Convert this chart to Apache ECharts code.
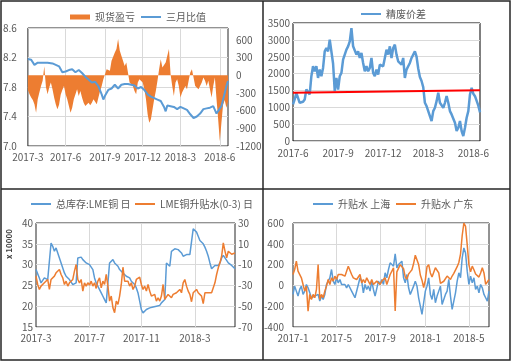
<!DOCTYPE html>
<html><head><meta charset="utf-8">
<script src="https://cdn.jsdelivr.net/npm/echarts@6/dist/echarts.min.js"></script>
<style>html,body{margin:0;padding:0;background:#fff}#c{width:513px;height:362px}</style>
</head><body><div id="c"></div>
<script>
// ---------- Panel 1: 现货盈亏 / 三月比值 ----------
const p1Start = '2017-03-01', p1Step = 3.92;
const p1Ticks = ['2017-3','2017-6','2017-9','2017-12','2018-3','2018-6'];
const spotPnL = [-250,-323,-380,-420,-493,-635,-408,-295,-181,-96,150,-200,-323,-210,-125,-238,-380,-493,-578,-500,
-330,-250,-181,-323,-408,-521,-635,-550,-408,-323,-238,-351,-266,-380,-465,-521,-493,-465,-510,-465,
-408,-436,-493,-380,-266,-181,-68,-40,102,130,75,243,215,385,442,612,420,328,243,158,
215,45,-125,-96,-181,-266,-323,-125,-68,-40,-125,-238,-408,-663,-805,-748,-578,-408,-266,-96,
102,272,130,102,215,328,442,17,-181,-351,-125,-68,-181,-380,-295,-238,-181,-238,-96,45,
102,-40,-181,-153,-238,-266,-125,-40,-96,-181,-96,-238,-380,-181,-40,-408,-748,-1120,-800,-500,
-420,-550,-450];
const ratio3M = [8.18,null,8.17,null,8.10,null,8.13,null,null,8.13,null,null,8.13,null,null,8.12,null,8.10,null,8.08,
null,8.00,null,8.01,null,8.03,null,8.04,null,8.00,null,8.03,null,7.99,null,7.94,null,7.90,null,7.86,
null,7.87,null,7.81,null,7.70,7.63,7.68,null,7.76,null,7.78,null,7.83,null,7.78,null,7.83,null,7.84,
null,7.84,null,7.83,null,7.82,null,7.78,null,7.80,null,7.76,null,7.70,null,7.67,null,7.65,null,7.63,
null,7.61,null,7.53,7.47,7.55,null,7.54,null,7.53,null,7.50,null,7.53,null,7.51,null,7.49,null,7.43,
null,7.38,null,7.40,null,7.44,null,7.50,null,7.51,null,7.52,null,7.54,null,7.44,7.43,null,7.54,null,
7.72,7.81,7.88];

// ---------- Panel 2: 精废价差 ----------
const p2Start = '2017-06-01', p2Step = 3.37;
const p2Ticks = ['2017-6','2017-9','2017-12','2018-3','2018-6'];
const scrapSpread = [1084,1232,1429,1380,1133,1133,1162,1232,1527,1478,1380,1921,2217,2069,2217,1872,2118,1921,2167,2660,
2758,2660,3005,3054,2300,1478,1872,1527,1921,2020,2414,2562,2709,2808,2955,3350,2808,2857,2562,2660,
2463,2610,2315,2069,2217,2069,2167,2463,2020,1921,2118,1970,2266,2315,2217,2463,2709,2562,2808,2463,
2758,2857,2562,2364,2414,2266,2463,1872,2118,2217,2315,2463,2512,2660,2500,2150,1900,1780,1600,1133,
1035,985,739,591,887,985,1182,1429,1133,1182,985,1133,1330,1133,887,788,788,542,296,394,
591,296,148,394,690,887,1380,1580,1400,1330,1300,1050,850];
const spreadTrend = [1430, 1505]; // start / end of the red trend line

// ---------- Panel 3: LME ----------
const p3Start = '2017-03-01', p3Step = 3.86;
const p3Ticks = ['2017-3','2017-7','2017-11','2018-3'];
const lmeStock = [28.8,28.4,26.8,25.6,26.2,26.8,26.4,26.4,26.8,35.2,
34.4,33.2,34.0,32.8,31.6,30.4,29.2,28.0,27.2,26.8,
26.4,26.0,25.2,24.8,25.6,31.6,32.0,31.8,31.2,30.8,
30.4,30.2,30.0,29.6,28.8,26.8,25.6,24.8,24.0,23.2,
22.4,21.6,20.8,20.8,30.4,30.8,31.2,30.4,30.0,29.6,
28.8,28.4,28.0,27.6,27.2,26.8,26.8,26.0,25.6,25.2,
24.4,23.2,21.2,19.2,18.4,18.8,19.2,19.4,19.6,19.6,
19.8,20.0,20.0,20.0,20.2,20.8,21.2,21.6,30.4,30.0,
29.6,33.2,33.6,33.8,33.6,33.6,33.2,32.8,32.0,31.8,
32.4,32.4,32.4,32.8,38.6,38.4,37.8,36.8,35.8,35.6,
35.0,34.2,33.2,32.0,30.4,29.0,29.0,29.8,30.0,29.8,
30.4,31.6,32.2,31.6,31.0,30.4,30.3,29.8,29.4,29.0];
const lmeSpread = [-21.1,-29.1,-33.9,-30.7,-32.3,-27.5,-29.1,-24.3,-33.9,-24.3,
-22.7,-21.1,-17.9,-16.3,-14.7,-19.5,-22.7,-29.1,-25.9,-30.7,
-27.5,-25.9,-24.3,-16.3,-9.9,-24.3,-27.5,-24.3,-35.5,-27.5,
-30.7,-27.5,-29.7,-25.9,-30.7,-27.5,-32.9,-25.9,-22.7,-32.3,
-25.9,-29.1,-19.5,-30.7,-45.1,-40.3,-51.5,-56.3,-45.1,-48.3,
-40.3,-29.1,-12.5,-25.9,-24.3,-26.0,-30.7,-27.5,-33.9,-30.7,
-24.3,-25.9,-22.1,-29.1,-33.9,-30.7,-35.5,-29.1,-35.5,-40.3,
-41.9,-38.7,-45.1,-41.9,-45.1,-40.3,-29.1,-43.5,-41.9,-38.7,
-40.3,-41.9,-38.7,-40.3,-37.1,-35.5,-33.9,-37.1,-27.5,-24.3,
-30.7,-35.5,-38.7,-45.7,-37.1,-38.7,-33.9,-37.1,-35.5,-40.3,
-47.6,-37.1,-38.7,-37.1,-35.5,-37.1,-32.3,-27.5,-19.5,-13.1,
-8.3,-2.0,10.8,3.0,-3.5,2.8,4.0,0.0,1.2,1.2];

// ---------- Panel 4: 升贴水 ----------
const p4Start = '2017-01-01', p4Step = 4.63;
const p4Ticks = ['2017-1','2017-5','2017-9','2018-1','2018-5'];
const premShanghai = [-87,-7,-55,-103,-39,-7,-87,-55,9,-23,
-71,-119,-135,-103,-119,-87,-151,-103,-135,-87,
9,41,73,153,41,9,73,25,57,9,
-7,9,-23,9,25,-55,-87,-119,-103,9,
73,41,-71,9,-39,-7,-55,41,-39,-103,
-87,41,9,57,9,121,73,153,217,201,
185,303,169,201,185,233,73,25,105,-23,
-87,-71,-7,41,-7,-119,-199,-279,-167,-55,
-7,73,-87,-135,-39,-167,-103,-55,-7,-183,
-199,-87,-55,57,-103,-231,-151,-71,41,121,
73,265,360,312,137,9,89,25,73,-39,
-7,-71,9,-23,-87,-119,-151,-55];
const premGuangdong = [105,153,233,137,153,73,9,-55,-7,-247,
-87,-135,-87,-119,-39,201,-135,-87,-119,-55,
-7,57,9,73,41,89,57,105,89,105,
111,89,137,185,201,105,73,89,57,73,
105,25,57,25,73,41,9,57,9,-7,
41,57,9,41,25,73,9,57,105,89,
169,-247,130,120,200,215,160,80,60,110,
130,150,210,290,280,200,100,50,-20,50,
180,200,120,80,90,170,170,120,20,20,
40,30,90,90,57,90,115,130,180,220,
300,480,600,568,390,200,130,185,150,110,
100,80,120,170,120,10,0,57];

// ---------- helpers ----------
const DAY = 86400000;
function buildAxis(start, step, n, ticks) {
  const t0 = Date.parse(start + 'T00:00:00Z');
  const cats = [];
  for (let i = 0; i < n; i++) cats.push(new Date(t0 + Math.round(i * step) * DAY).toISOString().slice(0, 10));
  const map = new Map();
  ticks.forEach(t => {
    const [y, m] = t.split('-').map(Number);
    const idx = Math.round((Date.UTC(y, m - 1, 1) - t0) / DAY / step);
    map.set(idx, t);
  });
  return { cats, map };
}
const a1 = buildAxis(p1Start, p1Step, spotPnL.length, p1Ticks);
const a2 = buildAxis(p2Start, p2Step, scrapSpread.length, p2Ticks);
const a3 = buildAxis(p3Start, p3Step, lmeStock.length, p3Ticks);
const a4 = buildAxis(p4Start, p4Step, premShanghai.length, p4Ticks);

const FONT = 'Noto Sans CJK SC';
const LBL = '#595959', GRIDC = '#d9d9d9', BOX = '#262626';
const BLUE = '#5B9BD5', ORANGE = '#ED7D31';
const plain = v => String(v);

function xAxisCfg(gi, ax, splitShow, margin) {
  return {
    type: 'category', gridIndex: gi, data: ax.cats, boundaryGap: false,
    axisLine: { show: false }, axisTick: { show: false },
    axisLabel: { interval: (i) => ax.map.has(i), formatter: (v, i) => ax.map.get(i) || '',
      color: LBL, fontSize: 10, fontFamily: FONT, margin: margin },
    splitLine: { show: splitShow, interval: (i) => ax.map.has(i) && i > 0, lineStyle: { color: GRIDC, width: 1 } }
  };
}
function yAxisCfg(gi, min, max, interval, pos, split, margin, fmt, extraLabel) {
  return {
    type: 'value', gridIndex: gi, min, max, interval, position: pos,
    axisLine: { show: false }, axisTick: { show: false },
    axisLabel: Object.assign({ color: LBL, fontSize: 10, fontFamily: FONT, margin: margin, formatter: fmt || plain }, extraLabel || {}),
    splitLine: { show: split, lineStyle: { color: GRIDC, width: 1 } }
  };
}
function withEnds(n, ends) {
  const arr = new Array(n).fill(null);
  arr[0] = ends[0]; arr[n - 1] = ends[1];
  return arr;
}

const legendText = { color: LBL, fontSize: 10, fontFamily: FONT };
function lg(name, left, top, h) {
  return { data: [{ name: name, icon: 'rect' }], left: left, top: top, itemWidth: 20, itemHeight: h, textStyle: legendText };
}
const chart = echarts.init(document.getElementById('c'), null, { renderer: 'canvas' });
chart.setOption({
  animation: false,
  textStyle: { fontFamily: FONT },
  grid: [
    { left: 24, top: 28, width: 204, height: 118, show: true, borderColor: BOX, borderWidth: 1 },
    { left: 293, top: 23, width: 187, height: 118, show: true, borderColor: '#000', borderWidth: 1 },
    { left: 36, top: 223, width: 199, height: 104, show: true, borderColor: BOX, borderWidth: 1 },
    { left: 293, top: 223, width: 196, height: 104, show: true, borderColor: BOX, borderWidth: 1 }
  ],
  legend: [
    lg('现货盈亏', 65, 7, 5),
    lg('三月比值', 136, 7, 2),
    lg('精废价差', 356, 4, 2),
    lg('总库存:LME铜 日', 26, 194, 2),
    lg('LME铜升贴水(0-3) 日', 130, 194, 2),
    lg('升贴水 上海', 308, 194, 2),
    lg('升贴水 广东', 391, 194, 2)
  ],
  xAxis: [
    xAxisCfg(0, a1, true, 6),
    xAxisCfg(1, a2, false, 7),
    xAxisCfg(2, a3, true, 6),
    xAxisCfg(3, a4, true, 6)
  ],
  yAxis: [
    yAxisCfg(0, 7.0, 8.6, 0.4, 'left', true, 11, v => v.toFixed(1)),
    yAxisCfg(0, -1200, 800, 300, 'right', false, 8, plain, { showMaxLabel: false }),
    yAxisCfg(1, 0, 3500, 500, 'left', true, 3),
    yAxisCfg(2, 15, 40, 5, 'left', true, 3),
    yAxisCfg(2, -70, 30, 20, 'right', false, 3),
    yAxisCfg(3, -400, 600, 200, 'left', true, 9)
  ],
  series: [
    { name: '现货盈亏', type: 'line', xAxisIndex: 0, yAxisIndex: 1, data: spotPnL, symbol: 'none', color: ORANGE,
      lineStyle: { width: 0 }, areaStyle: { color: ORANGE, opacity: 1 }, z: 1 },
    { name: '三月比值', type: 'line', xAxisIndex: 0, yAxisIndex: 0, data: ratio3M, symbol: 'none', connectNulls: true, color: BLUE,
      lineStyle: { width: 2, color: BLUE }, z: 3 },
    { name: '精废价差', type: 'line', xAxisIndex: 1, yAxisIndex: 2, data: scrapSpread, symbol: 'none', color: BLUE,
      lineStyle: { width: 2.5, color: BLUE } },
    { name: 'trend', type: 'line', xAxisIndex: 1, yAxisIndex: 2, data: withEnds(scrapSpread.length, spreadTrend), symbol: 'none',
      connectNulls: true, color: '#FF0000', lineStyle: { width: 2, color: '#FF0000' }, z: 4 },
    { name: '总库存:LME铜 日', type: 'line', xAxisIndex: 2, yAxisIndex: 3, data: lmeStock, symbol: 'none', color: BLUE,
      lineStyle: { width: 1.5, color: BLUE } },
    { name: 'LME铜升贴水(0-3) 日', type: 'line', xAxisIndex: 2, yAxisIndex: 4, data: lmeSpread, symbol: 'none', color: ORANGE,
      lineStyle: { width: 1.5, color: ORANGE } },
    { name: '升贴水 上海', type: 'line', xAxisIndex: 3, yAxisIndex: 5, data: premShanghai, symbol: 'none', color: BLUE,
      lineStyle: { width: 1.5, color: BLUE } },
    { name: '升贴水 广东', type: 'line', xAxisIndex: 3, yAxisIndex: 5, data: premGuangdong, symbol: 'none', color: ORANGE,
      lineStyle: { width: 1.5, color: ORANGE } }
  ],
  graphic: [
    { type: 'rect', shape: { x: 1, y: 1, width: 509, height: 359 }, style: { fill: null, stroke: BOX, lineWidth: 1.5 }, silent: true },
    { type: 'line', shape: { x1: 263, y1: 1, x2: 263, y2: 360 }, style: { stroke: BOX, lineWidth: 1.5 }, silent: true },
    { type: 'line', shape: { x1: 1, y1: 189, x2: 510, y2: 189 }, style: { stroke: BOX, lineWidth: 1.5 }, silent: true },
    { type: 'text', x: 9, y: 244, rotation: Math.PI / 2,
      style: { text: 'x 10000', fill: '#404040', font: 'bold 8px "Noto Sans CJK SC"', align: 'center', verticalAlign: 'middle' }, silent: true }
  ]
});
</script></body></html>
